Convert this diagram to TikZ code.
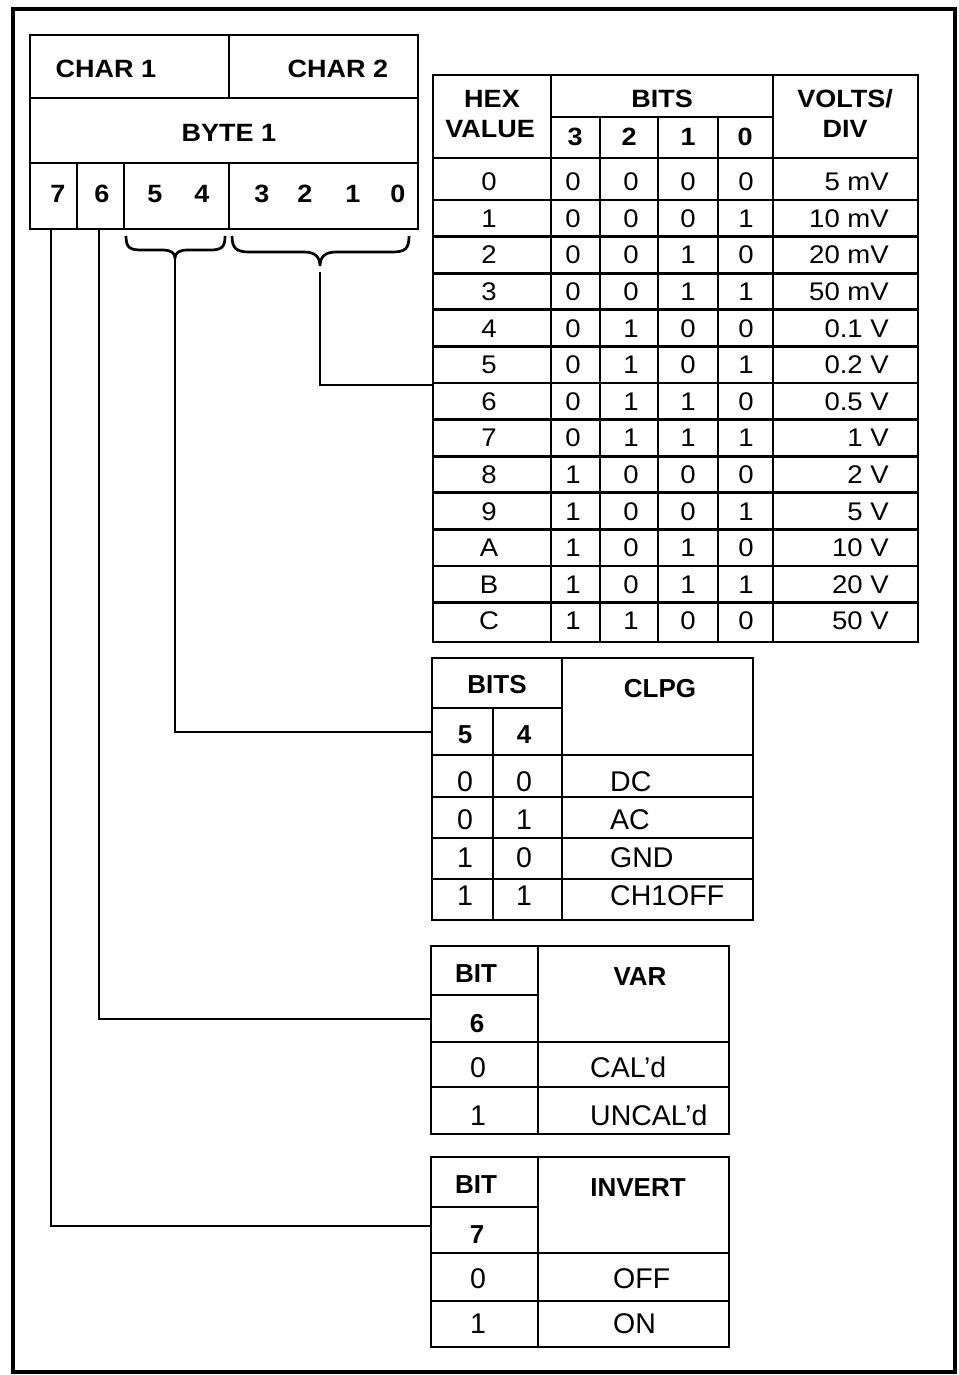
\documentclass[tikz,border=0pt]{standalone}
\usepackage{fontspec}
\setmainfont{Liberation Sans}
\newfontfamily\widefont{Liberation Sans}[FakeStretch=1.08]
\begin{document}
\begin{tikzpicture}[x=1pt,y=-1pt,
  tbl/.style={line width=2.7pt},
  frm/.style={line width=3.6pt},
  conn/.style={line width=2.7pt},
  ht/.style={font=\widefont\bfseries\fontsize{25}{28}\selectfont, inner sep=0pt, anchor=base},
  hd/.style={font=\widefont\fontsize{25.5}{28}\selectfont, inner sep=0pt, anchor=base},
  lb/.style={font=\bfseries\fontsize{26}{28}\selectfont, inner sep=0pt, anchor=base},
  ld/.style={font=\fontsize{28.5}{30}\selectfont, inner sep=0pt, anchor=base}]
\useasboundingbox (0,0) rectangle (958,1375);
\fill[white] (0,0) rectangle (958,1375);
% outer frame
\draw[frm] (13,9) rectangle (955,1372);

% ---------- top byte box ----------
\draw[tbl] (30,35) rectangle (418,229);
\draw[tbl] (30,98) -- (418,98);
\draw[tbl] (30,163) -- (418,163);
\draw[tbl] (229,35) -- (229,98);
\draw[tbl] (229,163) -- (229,229);
\draw[tbl] (77,163) -- (77,229);
\draw[tbl] (124,163) -- (124,229);
\node[ht] (char1) at (106,78) {CHAR 1};
\node[ht] (char2) at (338,78) {CHAR 2};
\node[ht] (byte1) at (229,142) {BYTE 1};
\foreach \b/\x in {7/58,6/102,5/155,4/202,3/262,2/305,1/353,0/398}
  \node[ht] (bit\b) at (\x,203) {\b};

% braces
\draw[conn] (126,236) .. controls (126,248) and (130,250) .. (142,250) -- (162,250)
  .. controls (171,250) and (175,253) .. (175,258)
  .. controls (175,253) and (179,250) .. (188,250) -- (210,250)
  .. controls (222,250) and (225,247) .. (225,236);
\draw[conn] (232,236) .. controls (232,249) and (237,252) .. (250,252) -- (304,252)
  .. controls (315,252) and (320,257) .. (320,266)
  .. controls (320,257) and (325,252) .. (336,252) -- (392,252)
  .. controls (405,252) and (409,249) .. (409,236);

% ---------- hex table ----------
\draw[tbl] (433,75) rectangle (918,642);
\draw[tbl] (551,117) -- (773,117);
\draw[tbl] (433,158) -- (918,158);
\draw[tbl] (551,75) -- (551,642);
\draw[tbl] (773,75) -- (773,642);
\foreach \x in {600,658,718} \draw[tbl] (\x,117) -- (\x,642);
\foreach \i in {0,...,11} \draw[tbl] (433,{200+36.6*\i}) -- (918,{200+36.6*\i});
\node[ht] (hexA) at (492,108) {HEX};
\node[ht] (hexB) at (490,138) {VALUE};
\node[ht] (bitsH) at (662,108) {BITS};
\node[ht] (h3) at (575,146) {3};
\node[ht] (h2) at (629,146) {2};
\node[ht] (h1) at (688,146) {1};
\node[ht] (h0) at (745,146) {0};
\node[ht] (voltA) at (845,108) {VOLTS/};
\node[ht] (voltB) at (845,138) {DIV};
\foreach \h/\a/\b/\c/\d/\v [count=\i from 0] in {
  0/0/0/0/0/5 mV, 1/0/0/0/1/10 mV, 2/0/0/1/0/20 mV, 3/0/0/1/1/50 mV,
  4/0/1/0/0/0.1 V, 5/0/1/0/1/0.2 V, 6/0/1/1/0/0.5 V, 7/0/1/1/1/1 V,
  8/1/0/0/0/2 V, 9/1/0/0/1/5 V, A/1/0/1/0/10 V, B/1/0/1/1/20 V, C/1/1/0/0/50 V}{
  \node[hd] (hx\i) at (489,{190.6+36.6*\i}) {\h};
  \node[hd] (ha\i) at (573,{190.6+36.6*\i}) {\a};
  \node[hd] (hb\i) at (631,{190.6+36.6*\i}) {\b};
  \node[hd] (hc\i) at (688,{190.6+36.6*\i}) {\c};
  \node[hd] (hd\i) at (746,{190.6+36.6*\i}) {\d};
  \node[hd, anchor=base east] (hv\i) at (889,{190.6+36.6*\i}) {\v};
}

% ---------- CLPG table ----------
\draw[tbl] (432,658) rectangle (753,920);
\draw[tbl] (432,708) -- (562,708);
\draw[tbl] (432,755) -- (753,755);
\foreach \y in {797,838,879} \draw[tbl] (432,\y) -- (753,\y);
\draw[tbl] (562,658) -- (562,920);
\draw[tbl] (493,708) -- (493,920);
\node[lb] (cbits) at (497,693) {BITS};
\node[lb] (clpg) at (660,697) {CLPG};
\node[lb] (c5) at (465,743) {5};
\node[lb] (c4) at (524,743) {4};
\foreach \a/\b/\t/\y [count=\i] in {0/0/DC/791, 0/1/AC/829, 1/0/GND/867, 1/1/CH1OFF/905}{
  \node[ld] (ca\i) at (465,\y) {\a};
  \node[ld] (cb\i) at (524,\y) {\b};
  \node[ld, anchor=base west] (ct\i) at (610,\y) {\t};
}

% ---------- VAR table ----------
\draw[tbl] (431,946) rectangle (729,1134);
\draw[tbl] (431,995) -- (538,995);
\draw[tbl] (431,1042) -- (729,1042);
\draw[tbl] (431,1087) -- (729,1087);
\draw[tbl] (538,946) -- (538,1134);
\node[lb] (vbit) at (476,982) {BIT};
\node[lb] (var) at (640,985) {VAR};
\node[lb] (v6) at (477,1032) {6};
\node[ld] (v0) at (478,1077) {0};
\node[ld, anchor=base west] (vcal) at (590,1077) {CAL’d};
\node[ld] (v1) at (478,1125) {1};
\node[ld, anchor=base west] (vuncal) at (590,1125) {UNCAL’d};

% ---------- INVERT table ----------
\draw[tbl] (431,1157) rectangle (729,1347);
\draw[tbl] (431,1207) -- (538,1207);
\draw[tbl] (431,1253) -- (729,1253);
\draw[tbl] (431,1301) -- (729,1301);
\draw[tbl] (538,1157) -- (538,1347);
\node[lb] (ibit) at (476,1193) {BIT};
\node[lb] (inv) at (638,1196) {INVERT};
\node[lb] (i7) at (477,1243) {7};
\node[ld] (i0) at (478,1288) {0};
\node[ld, anchor=base west] (ioff) at (613,1288) {OFF};
\node[ld] (i1) at (478,1333) {1};
\node[ld, anchor=base west] (ion) at (613,1333) {ON};

% ---------- connectors ----------
\coordinate (s7) at (51,229);
\coordinate (s6) at (99,229);
\coordinate (s54) at (175,258);
\coordinate (s30) at (320,272);
\coordinate (hexIn) at (433,385);
\coordinate (clpgIn) at (432,732);
\coordinate (varIn) at (431,1019);
\coordinate (invIn) at (431,1226);
\draw[conn] (s30) |- (hexIn);
\draw[conn] (s54) |- (clpgIn);
\draw[conn] (s6) |- (varIn);
\draw[conn] (s7) |- (invIn);
\end{tikzpicture}
\end{document}
